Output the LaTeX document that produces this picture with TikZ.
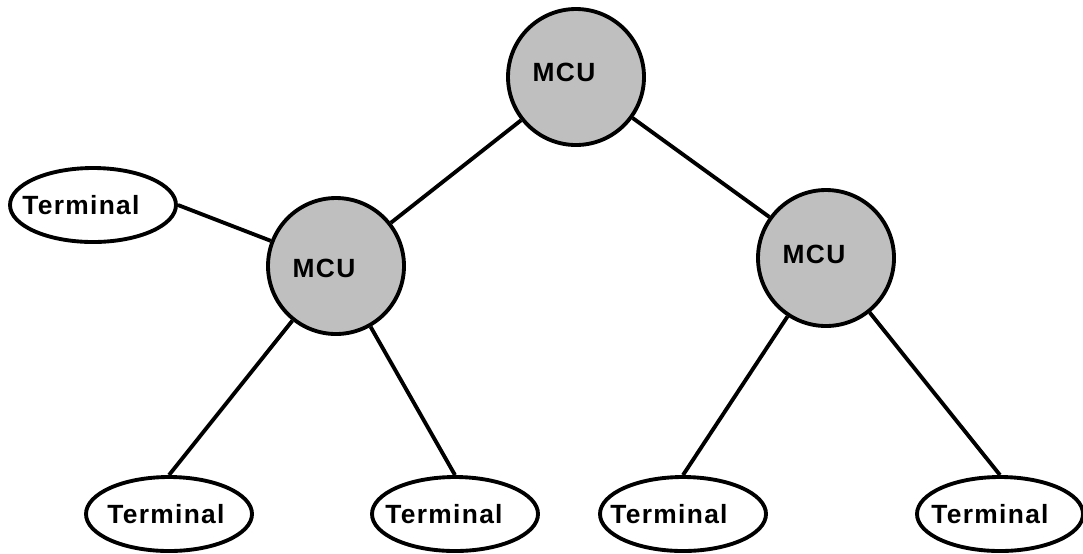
\documentclass[tikz,border=0pt]{standalone}
\usepackage{fontspec}
\setmainfont{Liberation Sans}
\usetikzlibrary{shapes.geometric}

\begin{document}
\begin{tikzpicture}[
    txt/.style={font=\bfseries\fontsize{7.5}{8}\selectfont\addfontfeature{LetterSpace=5}},
    mcu/.style 2 args={circle, draw, line width=1.1pt, fill=black!25, minimum size=1.36cm, inner sep=0pt,
        label={[txt,xshift=-1.2mm,yshift=#2]center:#1}},
    term/.style 2 args={ellipse, draw, line width=1.1pt, fill=white, minimum width=1.66cm, minimum height=0.74cm, inner sep=0pt,
        label={[txt,xshift=#2]center:#1}},
    link/.style={line width=1.1pt}
]
    \useasboundingbox (0,0) rectangle (10.83,5.53);
    \node[mcu={MCU}{0.5mm}] (mTop) at (5.76,4.76) {};
    \node[mcu={MCU}{-0.2mm}] (mLeft) at (3.36,2.87) {};
    \node[mcu={MCU}{0.4mm}] (mRight) at (8.26,2.95) {};
    \node[term={Terminal}{-1.2mm}] (tSide) at (0.93,3.48) {};
    \node[term={Terminal}{-0.3mm}] (tA) at (1.69,0.39) {};
    \node[term={Terminal}{-1.1mm}] (tB) at (4.55,0.39) {};
    \node[term={Terminal}{-1.4mm}] (tC) at (6.83,0.39) {};
    \node[term={Terminal}{-1.0mm}] (tD) at (10.00,0.39) {};
    \draw[link] (mTop) -- (mLeft);
    \draw[link] (mTop) -- (mRight);
    \draw[link] (tSide.east) -- (mLeft);
    \draw[link] (mLeft) -- (tA.north);
    \draw[link] (mLeft) -- (tB.north);
    \draw[link] (mRight) -- (tC.north);
    \draw[link] (mRight) -- (tD.north);
\end{tikzpicture}
\end{document}
